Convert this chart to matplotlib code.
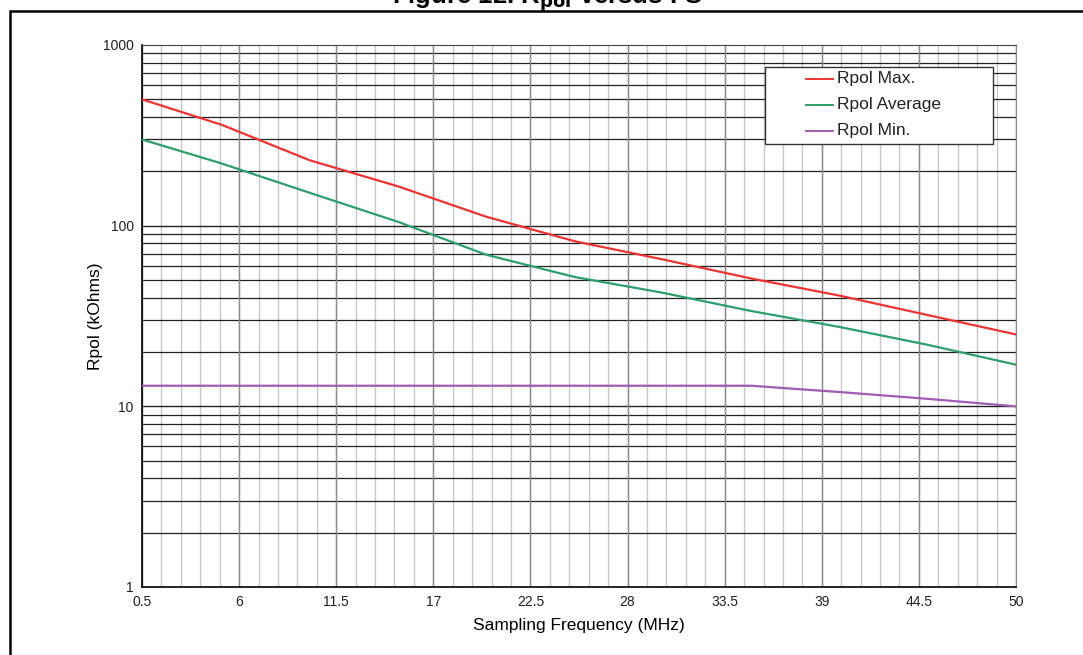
import matplotlib
matplotlib.use("Agg")
import matplotlib.pyplot as plt
from matplotlib.patches import Rectangle
from matplotlib.lines import Line2D
from matplotlib.ticker import FixedLocator, NullFormatter
import numpy as np

plt.rcParams['font.family'] = ['Liberation Sans', 'DejaVu Sans']

freq = [0.5, 5, 10, 15, 20, 25, 30, 35, 40, 45, 50]
rpol_max = [500, 362, 230, 165, 112, 82, 65, 51, 41, 32, 25]
rpol_avg = [300, 221, 152, 105, 69, 52, 42.5, 33.7, 27.5, 21.9, 17]
rpol_min = [13, 13, 13, 13, 13, 13, 13, 13, 12, 11, 10]
series_names = ['Rpol Max.', 'Rpol Average', 'Rpol Min.']
series_colors = ['#ee3333', '#2e9e6a', '#a05cb4']

x_major = [0.5, 6, 11.5, 17, 22.5, 28, 33.5, 39, 44.5, 50]
x_major_labels = ["0.5", "6", "11.5", "17", "22.5", "28", "33.5", "39", "44.5", "50"]
y_major = [1, 10, 100, 1000]
y_major_labels = ["1", "10", "100", "1000"]

fig = plt.figure(figsize=(10.83, 6.55), dpi=100)
W, H = 1083, 655
ax = fig.add_axes([142 / W, 1 - 587 / H, (1016 - 142) / W, (587 - 45) / H])

ax.set_yscale('log')
ax.set_xlim(0.5, 50)
ax.set_ylim(1, 1000)

# grid
x_minor = np.arange(0.5, 50.01, 1.1)
for xv in x_minor:
    ax.axvline(xv, color='#c8c8c8', lw=1.0, zorder=1)
for xv in x_major:
    ax.axvline(xv, color='#8a8a8a', lw=1.0, zorder=1.5)
for dec in [1, 10, 100]:
    for m in range(2, 10):
        ax.axhline(dec * m, color='#222222', lw=0.9, zorder=1.2)
for yv in [10, 100]:
    ax.axhline(yv, color='#222222', lw=1.0, zorder=1.2)

for ys, name, col in zip([rpol_max, rpol_avg, rpol_min], series_names, series_colors):
    ax.plot(freq, ys, color=col, lw=1.6, label=name, zorder=3)

ax.xaxis.set_major_locator(FixedLocator(x_major))
ax.set_xticklabels(x_major_labels, fontsize=10, color='#222222')
ax.yaxis.set_major_locator(FixedLocator(y_major))
ax.set_yticklabels(y_major_labels, fontsize=10, color='#222222')
ax.yaxis.set_minor_formatter(NullFormatter())
ax.yaxis.set_minor_locator(FixedLocator([]))
ax.tick_params(axis='both', which='both', length=0, pad=6)

for s in ['left', 'bottom']:
    ax.spines[s].set_color('black')
    ax.spines[s].set_linewidth(1.2)
ax.spines['top'].set_color('#444444')
ax.spines['right'].set_color('#8a8a8a')

ax.set_xlabel('Sampling Frequency (MHz)', fontsize=12.5, labelpad=6)
ax.set_ylabel('Rpol (kOhms)', fontsize=12.5)
ax.yaxis.set_label_coords((103 - 142) / (1016 - 142), 0.5)

# legend drawn as a boxed key in figure pixels
def fx(px):
    return px / W

def fy(py):
    return 1 - py / H

fig.patches.append(Rectangle((fx(765), fy(144)), fx(993) - fx(765), fy(67) - fy(144),
                             transform=fig.transFigure, facecolor='white', edgecolor='#333333',
                             lw=1.0, zorder=10))
for i, (name, col) in enumerate(zip(series_names, series_colors)):
    yy = 79 + 26 * i
    fig.lines.append(Line2D([fx(806), fx(833)], [fy(yy), fy(yy)], transform=fig.transFigure,
                            color=col, lw=1.4, zorder=11))
    fig.text(fx(837), fy(yy), name, fontsize=12.5, va='center',
             ha='left', color='#222222', zorder=12)

# outer frame and clipped title
fig.patches.append(Rectangle((10 / W, -0.2), 1.5, 1 - 11 / H + 0.2, transform=fig.transFigure,
                             fill=False, edgecolor='black', lw=1.8))
fig.text(0.506, 1 - 4 / H, r'Figure 12. R$_{\mathbf{pol}}$ versus FS', ha='center', va='baseline',
         fontsize=18.5, fontweight='bold')

fig.savefig('out.png', dpi=100)
